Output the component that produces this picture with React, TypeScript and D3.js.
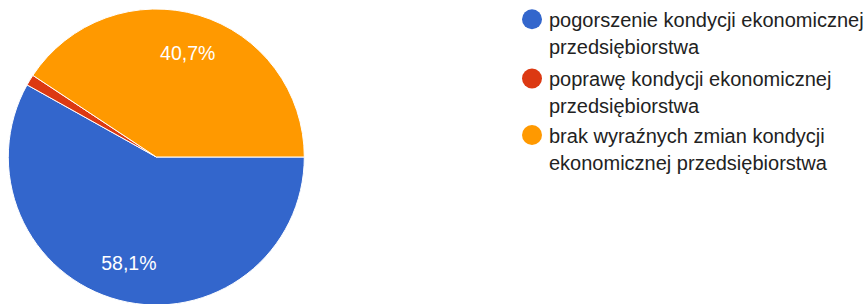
import React, { useEffect, useRef } from "react";
import * as d3 from "d3";

const categories = [
  "pogorszenie kondycji ekonomicznej przedsiębiorstwa",
  "poprawę kondycji ekonomicznej przedsiębiorstwa",
  "brak wyraźnych zmian kondycji ekonomicznej przedsiębiorstwa",
];
const values = [58.1, 1.2, 40.7];
const sliceLabels = ["58,1%", "", "40,7%"];
const legendLines = [
  ["pogorszenie kondycji ekonomicznej", "przedsiębiorstwa"],
  ["poprawę kondycji ekonomicznej", "przedsiębiorstwa"],
  ["brak wyraźnych zmian kondycji", "ekonomicznej przedsiębiorstwa"],
];
const colors = ["#3366cc", "#dc3912", "#ff9900"];

export default function App() {
  const ref = useRef<SVGSVGElement>(null);

  useEffect(() => {
    const svg = d3.select(ref.current);
    svg.selectAll("*").remove();

    const width = 865;
    const height = 304;
    const cx = 156.3;
    const cy = 157;
    const radius = 148;

    svg.attr("width", width).attr("height", height);

    const pie = d3
      .pie<number>()
      .sort(null)
      .startAngle(Math.PI / 2)
      .endAngle(Math.PI / 2 + 2 * Math.PI);
    const arcs = pie(values);

    const arc = d3.arc<d3.PieArcDatum<number>>().innerRadius(0).outerRadius(radius);
    const labelArc = d3
      .arc<d3.PieArcDatum<number>>()
      .innerRadius(109)
      .outerRadius(109);

    const g = svg.append("g").attr("transform", `translate(${cx},${cy})`);

    g.selectAll("path")
      .data(arcs)
      .join("path")
      .attr("d", arc)
      .attr("fill", (d, i) => colors[i])
      .attr("stroke", "#ffffff")
      .attr("stroke-width", 1);

    g.selectAll("text")
      .data(arcs)
      .join("text")
      .attr("transform", (d) => `translate(${labelArc.centroid(d)})`)
      .attr("text-anchor", "middle")
      .attr("dy", "0.36em")
      .attr("fill", "#ffffff")
      .attr("font-family", "Liberation Sans, Arial, sans-serif")
      .attr("font-size", 19.5)
      .text((d, i) => sliceLabels[i]);

    // legend
    const legendY = [19.3, 78.5, 135];
    const legend = svg
      .selectAll("g.legend")
      .data(categories)
      .join("g")
      .attr("class", "legend")
      .attr("transform", (d, i) => `translate(532,${legendY[i]})`);

    legend
      .append("circle")
      .attr("r", 10)
      .attr("fill", (d, i) => colors[i]);

    legend
      .append("text")
      .attr("x", 17)
      .attr("y", 7.5)
      .attr("fill", "#222222")
      .attr("font-family", "Liberation Sans, Arial, sans-serif")
      .attr("font-size", 20)
      .selectAll("tspan")
      .data((d, i) => legendLines[i])
      .join("tspan")
      .attr("x", 17)
      .attr("dy", (d, j) => (j === 0 ? 0 : 27))
      .text((d) => d);
  }, []);

  return (
    <div style={{ position: "absolute", left: 0, top: 0 }}>
      <svg ref={ref} />
    </div>
  );
}
